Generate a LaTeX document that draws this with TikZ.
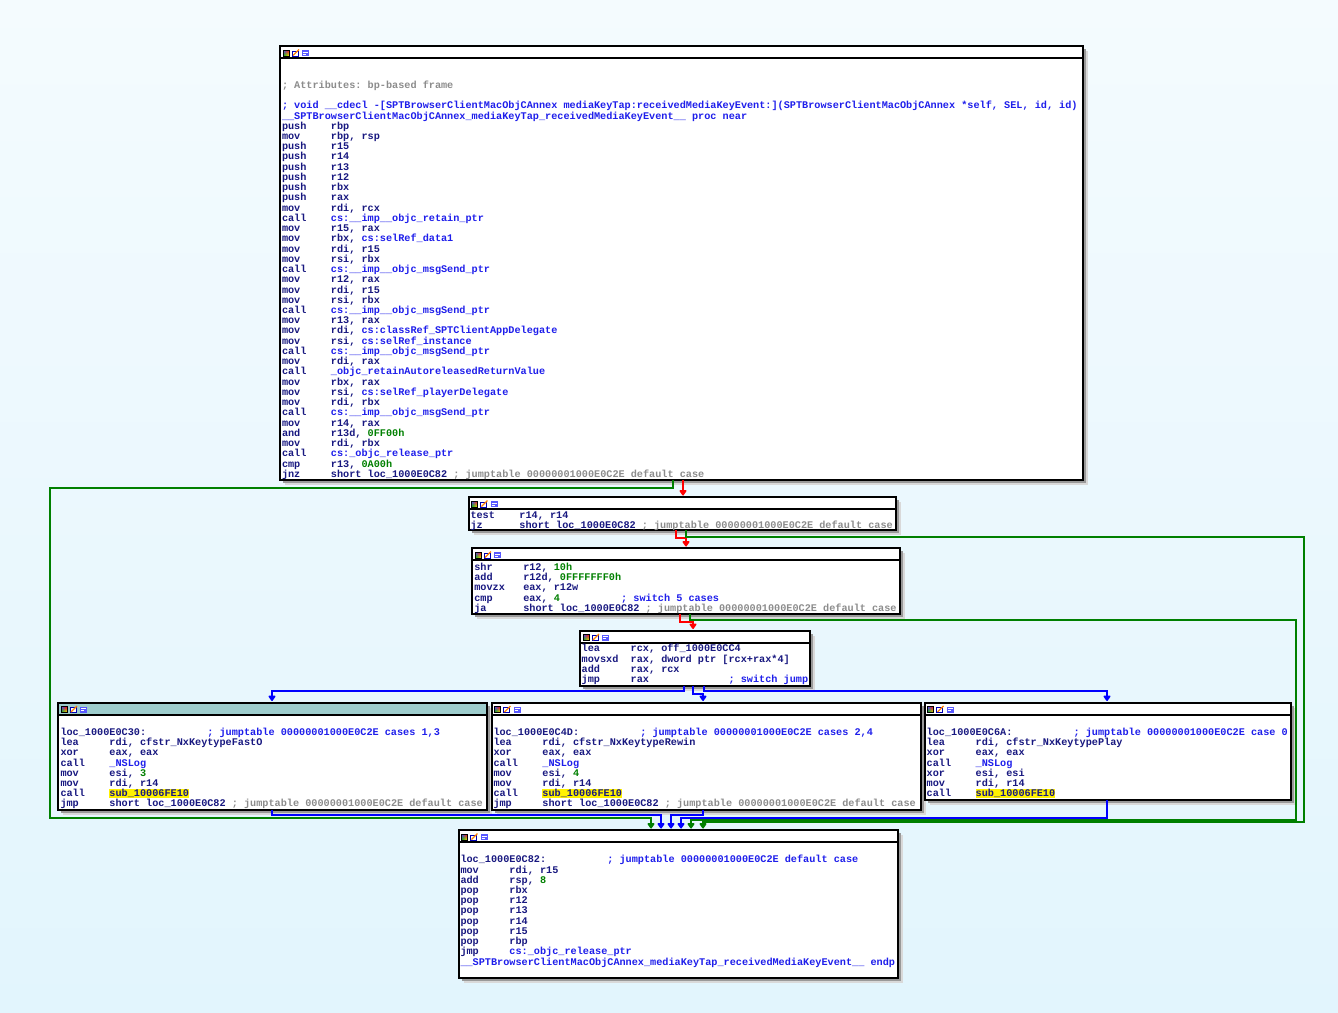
\documentclass[tikz,border=0pt]{standalone}
\usepackage{fontspec}
\usetikzlibrary{arrows.meta,shadings}
\newfontfamily\codefont{Liberation Mono}
\definecolor{nv}{RGB}{24,24,128}
\definecolor{bl}{RGB}{30,30,235}
\definecolor{gr}{RGB}{0,128,0}
\definecolor{cm}{RGB}{140,140,140}
\definecolor{bgtop}{RGB}{244,251,254}
\definecolor{bgbot}{RGB}{226,245,253}
\definecolor{selhead}{RGB}{158,205,205}
\definecolor{edgegreen}{RGB}{0,128,0}
\definecolor{edgeblue}{RGB}{0,0,255}
\definecolor{edgered}{RGB}{255,0,0}
\newcommand\ins[2]{\makebox[4.8em][l]{#1}#2}
\newcommand\Lb[2]{\makebox[14.4em][l]{#1}#2}
\newcommand\Bl[1]{\textcolor{bl}{#1}}
\newcommand\Gr[1]{\textcolor{gr}{#1}}
\newcommand\Cm[1]{\textcolor{cm}{#1}}
\newcommand\hil[1]{{\fboxsep=0pt\colorbox{yellow}{#1}}}
\newcommand\fst{\rule{0pt}{9pt}}
\tikzset{
  blockbox/.style={fill=white, inner sep=0pt, outer sep=0pt, anchor=north west},
  code/.style={anchor=north west, inner sep=0pt, outer sep=0pt, align=left, text=nv,
    font={\codefont\bfseries\fontsize{10.2pt}{10.235pt}\selectfont\lineskiplimit=-100pt\lineskip=0pt\frenchspacing}},
  edge/.style={line width=2pt, -{Triangle[width=8pt,length=6pt,round]}, shorten >=1.5pt},
  gedge/.style={edge, edgegreen},
  redge/.style={edge, edgered},
  bedge/.style={edge, edgeblue}
}
% name, x1, y1, x2, y2, header colour
\newcommand\blk[6]{%
  \fill[black!15] (#2+5,#3+5) rectangle (#4+5,#5+5);
  \fill[black!40] (#2+3,#3+3) rectangle (#4+3,#5+3);
  \node[blockbox, minimum width=#4-#2, minimum height=#5-#3] (#1) at (#2,#3) {};
  \fill[#6] (#1.north west) rectangle ([yshift=-12pt]#1.north east);
  \draw[line width=2pt] ([yshift=-12pt]#1.north west) -- ([yshift=-12pt]#1.north east);
  \draw[line width=2pt] (#1.north west) rectangle (#1.south east);
  \begin{scope}[shift={(#1.north west)}]
    \shade[upper left=blue!70, upper right=red, lower left=green!70!black, lower right=yellow] (3,4) rectangle (9,10);
    \draw[black, line width=0.3pt] (3,4) rectangle (9,10);
    \fill[white] (12,4.5) rectangle (19,10);
    \draw[blue!70!black, line width=0.6pt] (12,5) rectangle (18,10);
    \draw[orange, line width=1.2pt] (13,9.5) -- (19,3.5);
    \fill[blue!65] (22,4) rectangle (29,10);
    \draw[white, line width=0.6pt] (23,6) -- (28,6) (23,8) -- (26,8);
  \end{scope}
}
\begin{document}
\catcode`\_=12
\begin{tikzpicture}[x=1pt,y=-1pt]
\useasboundingbox (0,0) rectangle (1338,1012);
\shade[top color=bgtop, bottom color=bgbot] (0,0) rectangle (1338,1012);

\blk{b1}{280}{46}{1083}{480}{white}
\blk{b2}{468.5}{497}{895.5}{530}{white}
\blk{b3}{472}{548}{900}{614}{white}
\blk{b4}{580}{630.5}{809.5}{686}{white}
\blk{b5}{58}{702.5}{486.5}{810}{selhead}
\blk{b6}{491.5}{702.5}{921}{810}{white}
\blk{b7}{924.5}{702.5}{1290.5}{799.5}{white}
\blk{b8}{458.5}{830}{897.5}{977.5}{white}

\node[code] (t1) at (282,79.3) {\fst\Cm{; Attributes: bp-based frame}\\
\mbox{}\\
\Bl{; void __cdecl -[SPTBrowserClientMacObjCAnnex mediaKeyTap:receivedMediaKeyEvent:](SPTBrowserClientMacObjCAnnex *self, SEL, id, id)}\\
\Bl{__SPTBrowserClientMacObjCAnnex_mediaKeyTap_receivedMediaKeyEvent__ proc near}\\
\ins{push}{rbp}\\
\ins{mov}{rbp, rsp}\\
\ins{push}{r15}\\
\ins{push}{r14}\\
\ins{push}{r13}\\
\ins{push}{r12}\\
\ins{push}{rbx}\\
\ins{push}{rax}\\
\ins{mov}{rdi, rcx}\\
\ins{call}{\Bl{cs:__imp__objc_retain_ptr}}\\
\ins{mov}{r15, rax}\\
\ins{mov}{rbx, \Bl{cs:selRef_data1}}\\
\ins{mov}{rdi, r15}\\
\ins{mov}{rsi, rbx}\\
\ins{call}{\Bl{cs:__imp__objc_msgSend_ptr}}\\
\ins{mov}{r12, rax}\\
\ins{mov}{rdi, r15}\\
\ins{mov}{rsi, rbx}\\
\ins{call}{\Bl{cs:__imp__objc_msgSend_ptr}}\\
\ins{mov}{r13, rax}\\
\ins{mov}{rdi, \Bl{cs:classRef_SPTClientAppDelegate}}\\
\ins{mov}{rsi, \Bl{cs:selRef_instance}}\\
\ins{call}{\Bl{cs:__imp__objc_msgSend_ptr}}\\
\ins{mov}{rdi, rax}\\
\ins{call}{\Bl{_objc_retainAutoreleasedReturnValue}}\\
\ins{mov}{rbx, rax}\\
\ins{mov}{rsi, \Bl{cs:selRef_playerDelegate}}\\
\ins{mov}{rdi, rbx}\\
\ins{call}{\Bl{cs:__imp__objc_msgSend_ptr}}\\
\ins{mov}{r14, rax}\\
\ins{and}{r13d, \Gr{0FF00h}}\\
\ins{mov}{rdi, rbx}\\
\ins{call}{\Bl{cs:_objc_release_ptr}}\\
\ins{cmp}{r13, \Gr{0A00h}}\\
\ins{jnz}{short loc_1000E0C82 \Cm{; jumptable 00000001000E0C2E default case}}};

\node[code] (t2) at (470.5,509) {\fst\ins{test}{r14, r14}\\
\ins{jz}{short loc_1000E0C82 \Cm{; jumptable 00000001000E0C2E default case}}};

\node[code] (t3) at (474.3,561.3) {\fst\ins{shr}{r12, \Gr{10h}}\\
\ins{add}{r12d, \Gr{0FFFFFFF0h}}\\
\ins{movzx}{eax, r12w}\\
\Lb{\ins{cmp}{eax, \Gr{4}}}{\Bl{; switch 5 cases}}\\
\ins{ja}{short loc_1000E0C82 \Cm{; jumptable 00000001000E0C2E default case}}};

\node[code] (t4) at (581.7,642.8) {\fst\ins{lea}{rcx, off_1000E0CC4}\\
\ins{movsxd}{rax, dword ptr [rcx+rax*4]}\\
\ins{add}{rax, rcx}\\
\Lb{\ins{jmp}{rax}}{\Bl{; switch jump}}};

\node[code] (t5) at (60.5,726.3) {\fst\Lb{loc_1000E0C30:}{\Bl{; jumptable 00000001000E0C2E cases 1,3}}\\
\ins{lea}{rdi, cfstr_NxKeytypeFastO}\\
\ins{xor}{eax, eax}\\
\ins{call}{\Bl{_NSLog}}\\
\ins{mov}{esi, \Gr{3}}\\
\ins{mov}{rdi, r14}\\
\ins{call}{\hil{sub_10006FE10}}\\
\ins{jmp}{short loc_1000E0C82 \Cm{; jumptable 00000001000E0C2E default case}}};

\node[code] (t6) at (493.5,726.3) {\fst\Lb{loc_1000E0C4D:}{\Bl{; jumptable 00000001000E0C2E cases 2,4}}\\
\ins{lea}{rdi, cfstr_NxKeytypeRewin}\\
\ins{xor}{eax, eax}\\
\ins{call}{\Bl{_NSLog}}\\
\ins{mov}{esi, \Gr{4}}\\
\ins{mov}{rdi, r14}\\
\ins{call}{\hil{sub_10006FE10}}\\
\ins{jmp}{short loc_1000E0C82 \Cm{; jumptable 00000001000E0C2E default case}}};

\node[code] (t7) at (926.7,726.3) {\fst\Lb{loc_1000E0C6A:}{\Bl{; jumptable 00000001000E0C2E case 0}}\\
\ins{lea}{rdi, cfstr_NxKeytypePlay}\\
\ins{xor}{eax, eax}\\
\ins{call}{\Bl{_NSLog}}\\
\ins{xor}{esi, esi}\\
\ins{mov}{rdi, r14}\\
\ins{call}{\hil{sub_10006FE10}}};

\node[code] (t8) at (460.5,853.8) {\fst\Lb{loc_1000E0C82:}{\Bl{; jumptable 00000001000E0C2E default case}}\\
\ins{mov}{rdi, r15}\\
\ins{add}{rsp, \Gr{8}}\\
\ins{pop}{rbx}\\
\ins{pop}{r12}\\
\ins{pop}{r13}\\
\ins{pop}{r14}\\
\ins{pop}{r15}\\
\ins{pop}{rbp}\\
\ins{jmp}{\Bl{cs:_objc_release_ptr}}\\
\Bl{__SPTBrowserClientMacObjCAnnex_mediaKeyTap_receivedMediaKeyEvent__ endp}};

% connectors
\draw[redge] (b1.south -| 683,0) -- (b2.north -| 683,0);
\draw[gedge] (b1.south -| 673,0) |- (50,487.5) |- (651,818) -- (b8.north -| 651,0);
\draw[redge] (b2.south -| 676,0) |- (686,538) -- (b3.north -| 686,0);
\draw[gedge] (b2.south -| 686,0) |- (1304,537) |- (703,821.5) -- (b8.north -| 703,0);
\draw[redge] (b3.south -| 680,0) |- (693,622) -- (b4.north -| 693,0);
\draw[gedge] (b3.south -| 690,0) |- (1296,619.5) |- (691,820) -- (b8.north -| 691,0);
\draw[bedge] (b4.south -| 684,0) |- (272,691) -- (b5.north -| 272,0);
\draw[bedge] (b4.south -| 693,0) |- (703,694) -- (b6.north -| 703,0);
\draw[bedge] (b4.south -| 704,0) |- (1107,691) -- (b7.north -| 1107,0);
\draw[bedge] (b5.south -| 272,0) |- (661,815) -- (b8.north -| 661,0);
\draw[bedge] (b6.south -| 703,0) |- (671,815) -- (b8.north -| 671,0);
\draw[bedge] (b7.south -| 1107,0) |- (681,817.5) -- (b8.north -| 681,0);
\end{tikzpicture}
\end{document}
